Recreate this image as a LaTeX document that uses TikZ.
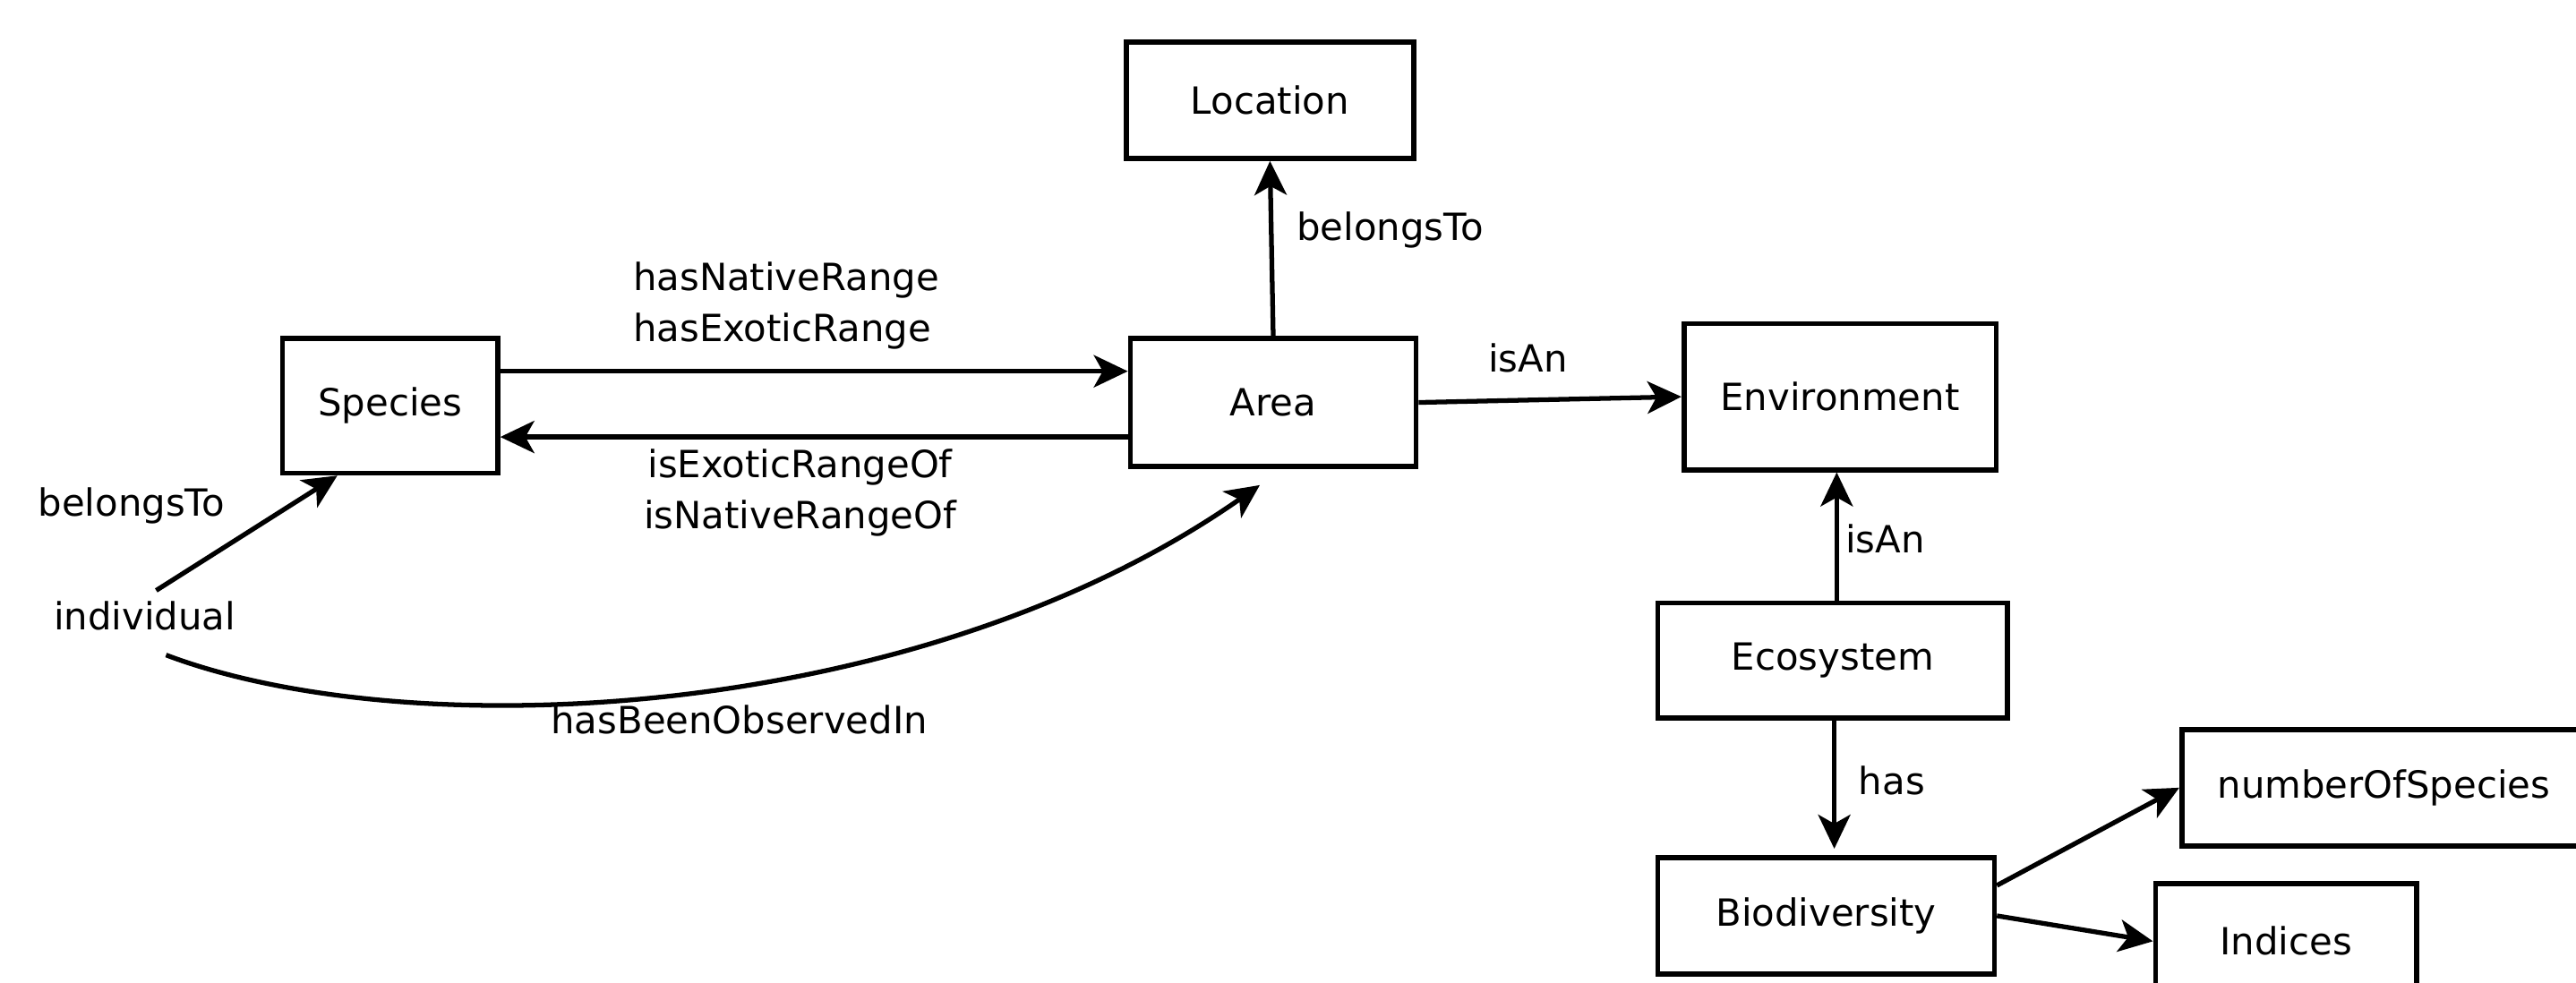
\documentclass[tikz,border=0pt]{standalone}
\usepackage{fontspec}
\setmainfont{DejaVu Sans}
\usetikzlibrary{arrows.meta}
\begin{document}
\begin{tikzpicture}[x=0.01835cm,y=-0.01835cm,
  every node/.style={font=\fontsize{11.9}{16.2}\selectfont},
  box/.style={draw, line width=1.6pt, inner sep=0pt},
  lbl/.style={inner sep=0pt},
  conn/.style={line width=1.5pt, -{Stealth[length=0.38cm,width=0.36cm,inset=0.1cm]}}]
\useasboundingbox (0,0) rectangle (1568,598);
\clip (0,0) rectangle (1568,598);
% boxes
\node[box, minimum width=3.211cm, minimum height=1.303cm] (lo) at (773,61) {Location};
\node[box, minimum width=3.193cm, minimum height=1.431cm] (ar) at (775,245) {Area};
\node[box, minimum width=2.404cm, minimum height=1.505cm] (sp) at (237.5,247) {Species};
\node[box, minimum width=3.487cm, minimum height=1.633cm] (en) at (1120,241.5) {Environment};
\node[box, minimum width=3.909cm, minimum height=1.285cm] (ec) at (1115.5,402) {Ecosystem};
\node[box, minimum width=3.762cm, minimum height=1.303cm] (bi) at (1111.5,557.5) {Biodiversity};
\node[box, minimum width=4.514cm, minimum height=1.303cm] (ns) at (1451,479.5) {numberOfSpecies};
\node[box, minimum width=2.918cm, minimum height=1.285cm] (in) at (1391.5,573) {Indices};
\node (ind) at (88,375) {individual};
% helper coordinates
\coordinate (y226) at (0,226);
\coordinate (y266) at (0,266);
\coordinate (y539) at (0,539);
\coordinate (x1118) at (1118,0);
\coordinate (x1116) at (1116.5,0);
% connectors
\draw[conn] (sp.east |- y226) -- (ar.west |- y226);
\draw[conn] (ar.west |- y266) -- (sp.east |- y266);
\draw[conn] (ar.north) -- (lo.south);
\draw[conn] (ar.east) -- (en.west);
\draw[conn] (x1118 |- ec.north) -- (x1118 |- en.south);
\draw[conn] (x1116 |- ec.south) -- ([yshift=0.07cm]x1116 |- bi.north);
\draw[conn] (bi.east |- y539) -- (ns.west);
\draw[conn] (bi.east) -- (in.west);
\draw[conn] ([xshift=0.13cm]ind.north) -- ([xshift=-0.59cm]sp.south);
\draw[conn] ([shift={(0.24cm,-0.15cm)}]ind.south) .. controls (250,455) and (560,440) .. ([shift={(-0.15cm,-0.18cm)}]ar.south);
% labels
\node[lbl, anchor=west] at (789,140) {belongsTo};
\node[lbl, anchor=west, align=left] at (385,186) {hasNativeRange\\hasExoticRange};
\node[lbl, align=center] at (487,300) {isExoticRangeOf\\isNativeRangeOf};
\node[lbl] at (930,218) {isAn};
\node[lbl, anchor=west] at (1123,328) {isAn};
\node[lbl, anchor=west] at (1131,475) {has};
\node[lbl] at (80,308) {belongsTo};
\node[lbl] at (450,438) {hasBeenObservedIn};
\end{tikzpicture}
\end{document}
